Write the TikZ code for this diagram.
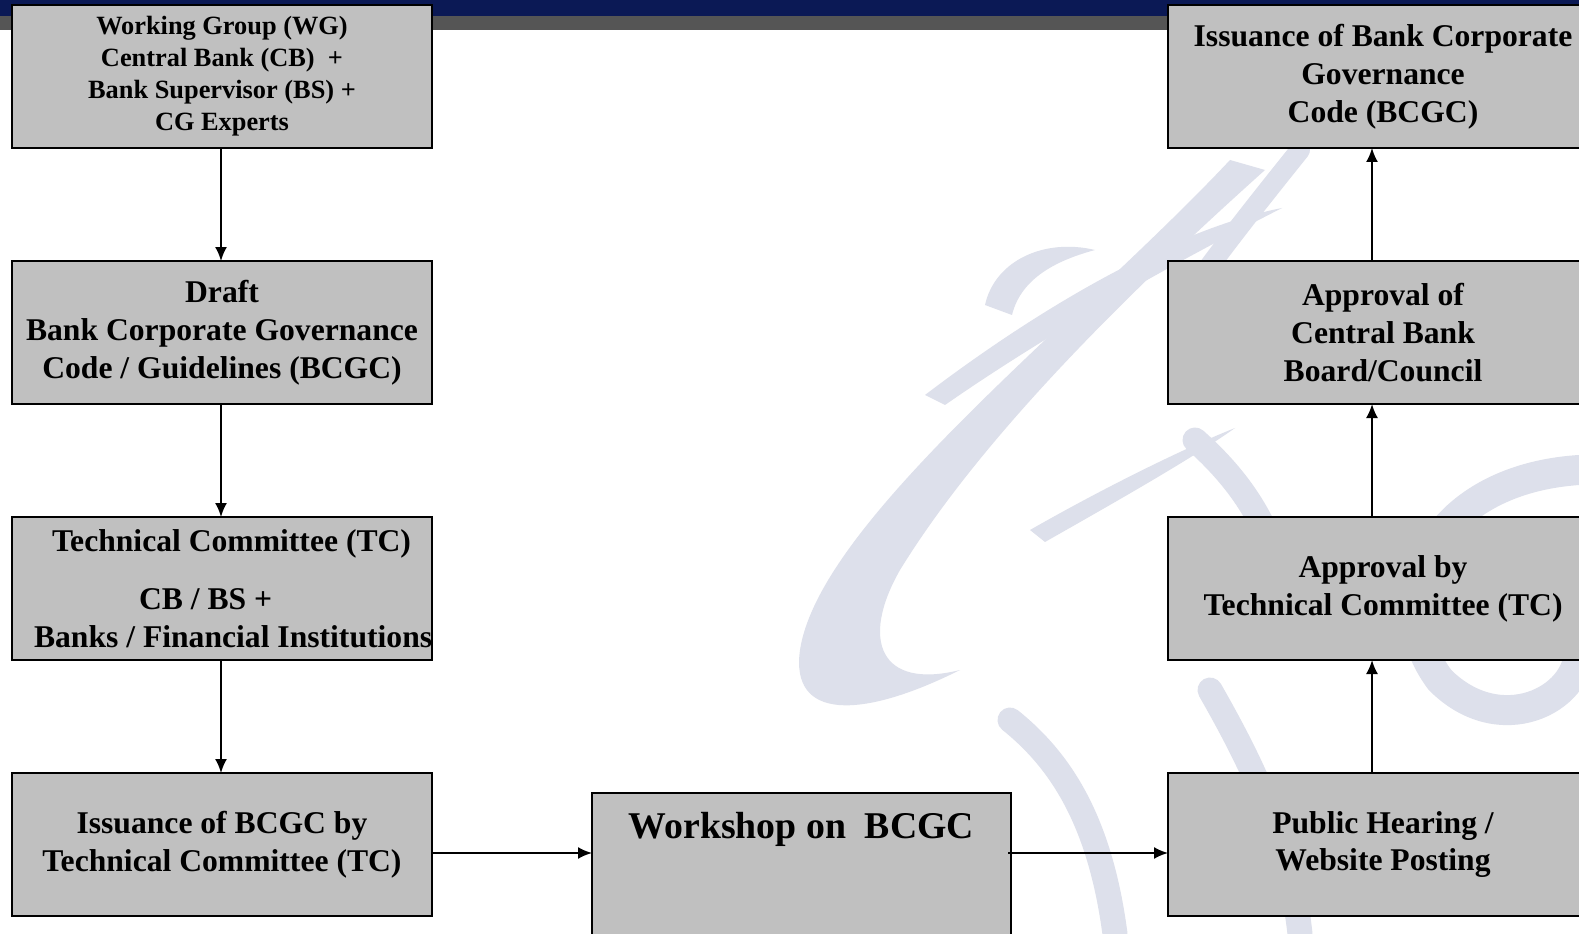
\documentclass[tikz,border=0pt]{standalone}
\usepackage{fontspec}
\setmainfont{Liberation Serif}
\usepackage{xcolor}
\usetikzlibrary{arrows.meta,positioning}
\definecolor{bandnavy}{RGB}{11,25,85}
\definecolor{bandgray}{RGB}{85,85,85}
\definecolor{boxgray}{RGB}{192,192,192}
\definecolor{wmark}{RGB}{221,224,235}

\begin{document}
\begin{tikzpicture}[x=0.2mm,y=-0.2mm,every node/.style={outer sep=0pt},
    box/.style={draw,line width=1.1pt,fill=boxgray,minimum width=8.4cm,
    minimum height=2.86cm,align=center,font=\fontsize{18}{21.6}\selectfont\bfseries},
    rbox/.style={box,minimum width=8.6cm},
    flow/.style={-{Latex[length=2.8mm,width=2.4mm]},line width=1.1pt},
    wm/.style={wmark,line cap=round}]

    \clip (0,0) rectangle (1579,934);
    \fill[white] (0,0) rectangle (1579,934);

    % watermark
    \fill[wmark] (1230,160) .. controls (1080,320) and (820,520) .. (800,650)
      .. controls (790,720) and (860,720) .. (960,670)
      .. controls (880,690) and (860,640) .. (900,570)
      .. controls (980,440) and (1120,300) .. (1265,170) -- cycle;
    \fill[wmark] (985,305) .. controls (995,260) and (1045,238) .. (1095,250)
      .. controls (1050,262) and (1020,282) .. (1012,315) -- cycle;
    \fill[wmark] (925,395) .. controls (1050,300) and (1180,228) .. (1282,208)
      .. controls (1190,255) and (1060,325) .. (945,405) -- cycle;
    \fill[wmark] (1030,530) .. controls (1100,490) and (1180,450) .. (1235,428)
      .. controls (1190,460) and (1110,505) .. (1045,542) -- cycle;
    \draw[wm,line width=5mm] (1195,440) .. controls (1240,480) and (1265,520) .. (1280,570);
    \draw[wm,line width=6mm] (1579,470) .. controls (1430,480) and (1380,600) .. (1440,680)
      .. controls (1500,740) and (1579,700) .. (1579,650);
    \draw[wm,line width=5mm] (1010,720) .. controls (1060,760) and (1100,820) .. (1115,934);
    \draw[wm,line width=5mm] (1210,690) .. controls (1250,760) and (1290,840) .. (1300,934);
    \draw[wm,line width=4mm] (1300,150) .. controls (1260,200) and (1220,250) .. (1185,300);

    % header band
    \fill[bandnavy] (0,0) rectangle (1579,16);
    \fill[bandgray] (0,16) rectangle (1579,30);

    \node[box,anchor=north west,font=\fontsize{15}{18.2}\selectfont\bfseries] (wg) at (12,5)
      {Working Group (WG)\\Central Bank (CB)~~+\\Bank Supervisor (BS) +\\CG Experts};
    \node[box,below=2.26cm of wg] (draft)
      {Draft\\Bank Corporate Governance\\Code / Guidelines (BCGC)};
    \node[box,below=2.26cm of draft,text width=7.52cm,align=left,inner xsep=0.44cm] (tc)
      {\spaceskip=0pt\xspaceskip=0pt
       \mbox{\hspace*{0.36cm}Technical Committee (TC)}\\[0.4cm]
       \mbox{\hspace*{2.1cm}CB / BS +}\\\mbox{Banks / Financial Institutions}};
    \node[box,below=2.26cm of tc] (iss)
      {Issuance of BCGC by\\Technical Committee (TC)};
    \node[box,anchor=north west,minimum width=8.38cm,minimum height=0pt,inner ysep=0.3cm,
      text height=0.6cm,text depth=3.2cm,font=\fontsize{21.5}{26}\selectfont\bfseries] (ws)
      at ([xshift=3.2cm,yshift=-4mm]iss.north east) {Workshop on~~BCGC};
    \node[rbox,anchor=north west] (ph) at ([xshift=3.14cm]ws.north east |- iss.north)
      {Public Hearing /\\Website Posting};
    \node[rbox,above=2.26cm of ph] (aptc)
      {Approval by\\Technical Committee (TC)};
    \node[rbox,above=2.26cm of aptc] (apcb)
      {Approval of\\Central Bank\\Board/Council};
    \node[rbox,above=2.26cm of apcb] (final)
      {Issuance of Bank Corporate\\Governance\\Code (BCGC)};

    \coordinate (lc) at (221,0);
    \coordinate (rc) at (1372,0);
    \coordinate (hy) at (0,853);

    \draw[flow] (wg.south-|lc) -- (draft.north-|lc);
    \draw[flow] (draft.south-|lc) -- (tc.north-|lc);
    \draw[flow] (tc.south-|lc) -- (iss.north-|lc);
    \draw[flow] (iss.east|-hy) -- (ws.west|-hy);
    \draw[flow] ([xshift=-0.6mm]ws.east|-hy) -- (ph.west|-hy);
    \draw[flow] (ph.north-|rc) -- (aptc.south-|rc);
    \draw[flow] (aptc.north-|rc) -- (apcb.south-|rc);
    \draw[flow] (apcb.north-|rc) -- (final.south-|rc);
\end{tikzpicture}
\end{document}
